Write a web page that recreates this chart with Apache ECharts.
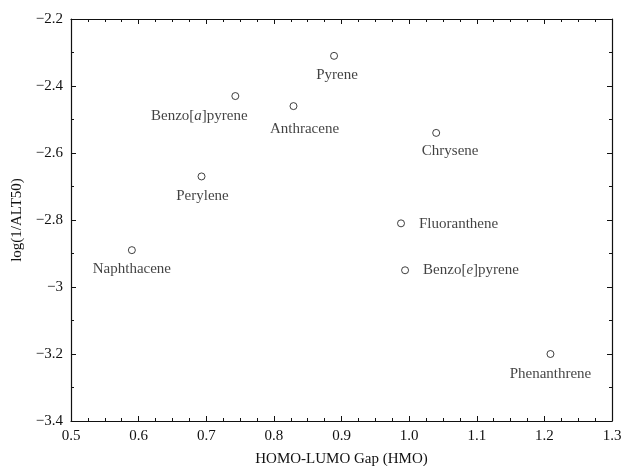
<!DOCTYPE html>
<html>
<head>
<meta charset="utf-8">
<title>log(1/ALT50) vs HOMO-LUMO Gap</title>
<script src="https://cdn.jsdelivr.net/npm/echarts@6/dist/echarts.min.js"></script>
<style>
html, body { margin: 0; padding: 0; background: #fff; }
#chart { width: 624px; height: 466px; }
</style>
</head>
<body>
<div id="chart"></div>
<script>
// compounds
var names = ['Pyrene', 'Benzo[a]pyrene', 'Anthracene', 'Chrysene', 'Perylene',
    'Fluoranthene', 'Naphthacene', 'Benzo[e]pyrene', 'Phenanthrene'];
// HOMO-LUMO gap (HMO)
var gap = [0.889, 0.743, 0.829, 1.040, 0.693, 0.988, 0.590, 0.994, 1.209];
// log(1/ALT50)
var logAlt = [-2.31, -2.43, -2.46, -2.54, -2.67, -2.81, -2.89, -2.95, -3.20];

// where each label sits relative to its point
var labelPlace = {
    'Pyrene': { position: 'bottom', offset: [3, 3] },
    'Benzo[a]pyrene': { position: 'bottom', offset: [-36, 4] },
    'Anthracene': { position: 'bottom', offset: [11, 6] },
    'Chrysene': { position: 'bottom', offset: [14, 2] },
    'Perylene': { position: 'bottom', offset: [1, 3] },
    'Fluoranthene': { position: 'right', offset: [9, 1] },
    'Naphthacene': { position: 'bottom', offset: [0, 2] },
    'Benzo[e]pyrene': { position: 'right', offset: [9, 0] },
    'Phenanthrene': { position: 'bottom', offset: [0, 4] }
};

var font = 'Liberation Serif';
var ink = '#111';

function labelText(name) {
    return name.replace('[a]', '[{i|a}]').replace('[e]', '[{i|e}]');
}

var points = [];
for (var i = 0; i < names.length; i++) {
    var p = labelPlace[names[i]];
    points.push({
        name: names[i],
        value: [gap[i], logAlt[i]],
        label: { position: p.position, offset: p.offset }
    });
}

function fmtX(v) { return v.toFixed(1); }
function fmtY(v) {
    var s = Math.abs(v - Math.round(v)) < 1e-9 ? String(Math.round(v)) : v.toFixed(1);
    return s.replace('-', '\u2212');
}

var tickStyle = { show: true, inside: true, length: 5, lineStyle: { color: ink, width: 1 } };
var lineStyle = { show: true, onZero: false, lineStyle: { color: ink, width: 1.2 } };

var myChart = echarts.init(document.getElementById('chart'));
var option = {
    backgroundColor: '#fff',
    animation: false,
    grid: { left: 71, right: 12, top: 19, bottom: 45, outerBoundsMode: 'none', containLabel: false },
    xAxis: [{
        type: 'value', min: 0.5, max: 1.3, interval: 0.1,
        name: 'HOMO-LUMO Gap (HMO)', nameLocation: 'middle', nameGap: 31,
        nameTextStyle: { fontFamily: font, fontSize: 15, color: ink },
        axisLine: lineStyle, axisTick: tickStyle,
        minorTick: { show: true, splitNumber: 4, length: 3, lineStyle: { color: ink } },
        splitLine: { show: false },
        axisLabel: { formatter: fmtX, fontFamily: font, fontSize: 15, color: ink, margin: 8 }
    }, {
        type: 'value', position: 'top', min: 0.5, max: 1.3, interval: 0.1,
        axisLine: lineStyle, axisTick: tickStyle,
        minorTick: { show: true, splitNumber: 4, length: 3, lineStyle: { color: ink } },
        splitLine: { show: false }, axisLabel: { show: false }
    }],
    yAxis: [{
        type: 'value', min: -3.4, max: -2.2, interval: 0.2,
        name: 'log(1/ALT50)', nameLocation: 'middle', nameGap: 45,
        nameTextStyle: { fontFamily: font, fontSize: 15, color: ink },
        axisLine: lineStyle, axisTick: tickStyle,
        minorTick: { show: true, splitNumber: 2, length: 3, lineStyle: { color: ink } },
        splitLine: { show: false },
        axisLabel: { formatter: fmtY, fontFamily: font, fontSize: 15, color: ink, margin: 8 }
    }, {
        type: 'value', position: 'right', min: -3.4, max: -2.2, interval: 0.2,
        axisLine: lineStyle, axisTick: tickStyle,
        minorTick: { show: true, splitNumber: 2, length: 3, lineStyle: { color: ink } },
        splitLine: { show: false }, axisLabel: { show: false }
    }],
    series: [{
        type: 'scatter',
        xAxisIndex: 0, yAxisIndex: 0,
        symbol: 'circle', symbolSize: 7,
        itemStyle: { color: '#fff', borderColor: ink, borderWidth: 1 },
        label: {
            show: true,
            formatter: function (p) { return labelText(p.name); },
            fontFamily: font, fontSize: 15, color: ink,
            rich: { i: { fontFamily: font, fontSize: 15, fontStyle: 'italic', color: ink } }
        },
        emphasis: { disabled: true },
        data: points
    }]
};
myChart.setOption(option);
</script>
</body>
</html>
